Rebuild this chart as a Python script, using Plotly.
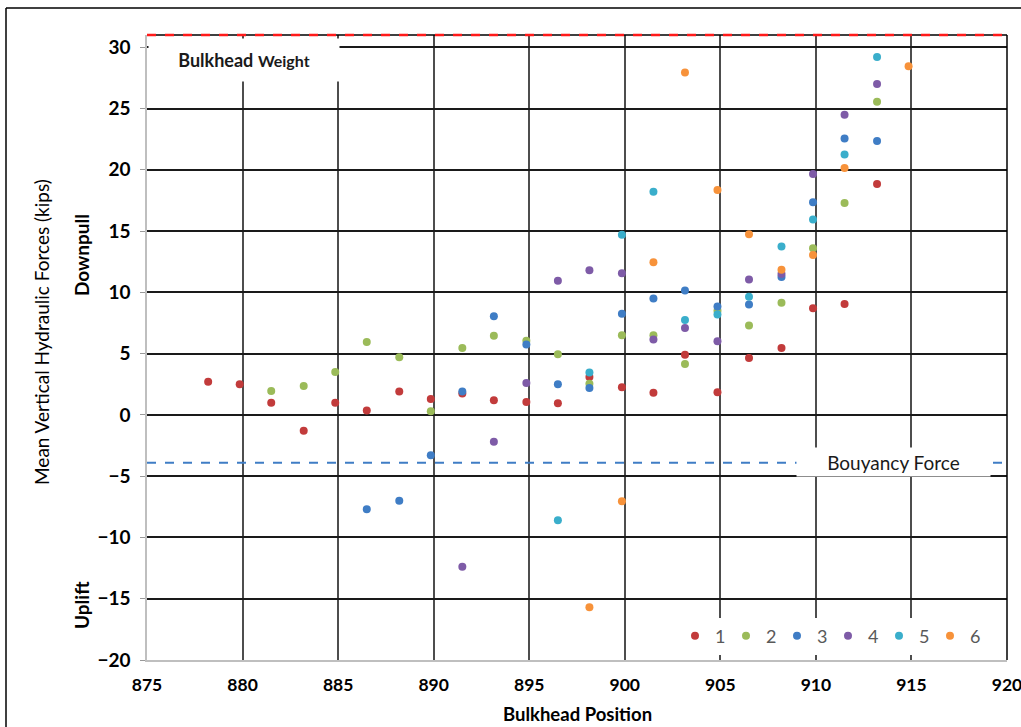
import plotly.graph_objects as go

# ---- data ----
x1 = [878.2, 879.85, 881.5, 883.2, 884.85, 886.5, 888.2, 889.85, 891.5, 893.15, 894.85,
      896.5, 898.15, 899.85, 901.5, 903.15, 904.85, 906.5, 908.2, 909.85, 911.5, 913.2]
y1 = [2.7, 2.5, 1.0, -1.3, 1.0, 0.35, 1.9, 1.3, 1.75, 1.2, 1.05,
      0.95, 3.1, 2.25, 1.8, 4.9, 1.85, 4.65, 5.45, 8.7, 9.05, 18.85]

x2 = [881.5, 883.2, 884.85, 886.5, 888.2, 889.85, 891.5, 893.15, 894.85, 896.5,
      898.15, 899.85, 901.5, 903.15, 904.85, 906.5, 908.2, 909.85, 911.5, 913.2]
y2 = [1.95, 2.35, 3.5, 5.95, 4.7, 0.3, 5.45, 6.45, 6.05, 4.95,
      2.55, 6.5, 6.5, 4.15, 8.5, 7.3, 9.15, 13.6, 17.3, 25.55]

x3 = [886.5, 888.2, 889.85, 891.5, 893.15, 894.85, 896.5, 898.15, 899.85,
      901.5, 903.15, 904.85, 906.5, 908.2, 909.85, 911.5, 913.2]
y3 = [-7.7, -7.0, -3.3, 1.9, 8.05, 5.75, 2.5, 2.2, 8.25,
      9.5, 10.15, 8.85, 9.0, 11.25, 17.35, 22.55, 22.35]

x4 = [891.5, 893.15, 894.85, 896.5, 898.15, 899.85, 901.5, 903.15, 904.85,
      906.5, 908.2, 909.85, 911.5, 913.2]
y4 = [-12.4, -2.2, 2.6, 10.95, 11.8, 11.55, 6.15, 7.1, 6.0,
      11.05, 11.5, 19.65, 24.5, 27.0]

x5 = [896.5, 898.15, 899.85, 901.5, 903.15, 904.85, 906.5, 908.2, 909.85, 911.5, 913.2]
y5 = [-8.6, 3.45, 14.7, 18.2, 7.75, 8.2, 9.65, 13.75, 15.95, 21.25, 29.2]

x6 = [898.15, 899.85, 901.5, 903.15, 904.85, 906.5, 908.2, 909.85, 911.5, 914.85]
y6 = [-15.7, -7.05, 12.45, 27.95, 18.35, 14.75, 11.85, 13.05, 20.15, 28.45]

series_names = ["1", "2", "3", "4", "5", "6"]
series_x = [x1, x2, x3, x4, x5, x6]
series_y = [y1, y2, y3, y4, y5, y6]
colors = ["#C23B3B", "#9BBB59", "#3F7DC5", "#7E5BA7", "#3AAECB", "#F7923A"]

bulkhead_weight = 31.0
bouyancy_force = -3.9

x_range = [875, 920]
y_range = [-20, 31]
x_ticks = [875, 880, 885, 890, 895, 900, 905, 910, 915, 920]
y_ticks = [-20, -15, -10, -5, 0, 5, 10, 15, 20, 25, 30]

FONT = "Lato"

# plot-area geometry in pixels (for placing paper-referenced decorations)
L, R, T, B = 147, 1007, 35, 660
PW, PH = R - L, B - T


def px(xp):
    return (xp - L) / PW


def py(yp):
    return (B - yp) / PH


fig = go.Figure()
for name, xs, ys, c in zip(series_names, series_x, series_y, colors):
    fig.add_trace(go.Scatter(x=xs, y=ys, mode="markers", name=name,
                             marker=dict(size=8, color=c)))

fig.update_layout(
    width=1021, height=727,
    margin=dict(l=L, r=1021 - R, t=T, b=727 - B),
    paper_bgcolor="white", plot_bgcolor="white",
    font=dict(family=FONT, color="black"),
    showlegend=True,
    legend=dict(orientation="h", x=px(981), y=py(636), xanchor="right", yanchor="middle",
                bgcolor="white", font=dict(size=18, color="#595959", family=FONT),
                itemwidth=30, entrywidth=6, tracegroupgap=0),
    xaxis=dict(range=x_range, tickvals=x_ticks, showgrid=True, gridcolor="#4d4d4d",
               gridwidth=1.5, zeroline=False, showline=True, linecolor="#BFBFBF",
               linewidth=1.5, ticks="", ticklen=0, automargin=False, ticklabelstandoff=8,
               ticklabeloverflow="allow",
               tickfont=dict(size=17.5, family=FONT, color="black", weight="bold")),
    yaxis=dict(range=y_range, tickvals=y_ticks, showgrid=True, gridcolor="#1a1a1a",
               gridwidth=1.8, zeroline=False, showline=True, linecolor="#BFBFBF",
               linewidth=1.5, ticks="outside", ticklen=5, tickcolor="#999999",
               automargin=False, ticklabelstandoff=6, ticklabeloverflow="allow",
               tickfont=dict(size=19, family=FONT, color="black", weight="bold")),
)

# top and right border of plot
fig.add_shape(type="line", xref="paper", yref="paper", x0=0, x1=1, y0=1, y1=1,
              line=dict(color="black", width=1.5))
fig.add_shape(type="line", xref="paper", yref="paper", x0=1, x1=1, y0=0, y1=1,
              line=dict(color="black", width=1.5))
# reference lines
bw_paper = (bulkhead_weight - y_range[0]) / (y_range[1] - y_range[0])
fig.add_shape(type="line", xref="paper", yref="paper", x0=0, x1=1, y0=bw_paper, y1=bw_paper,
              line=dict(color="#FF1A1A", width=2.5, dash="dash"))
fig.add_shape(type="line", xref="paper", yref="y", x0=0, x1=1, y0=bouyancy_force,
              y1=bouyancy_force, line=dict(color="#3F7DC5", width=2, dash="dash"))

# outer frame
fig.add_shape(type="line", xref="paper", yref="paper", x0=px(6), x1=px(1021), y0=py(8), y1=py(8),
              line=dict(color="black", width=1.5))
fig.add_shape(type="line", xref="paper", yref="paper", x0=px(6), x1=px(6), y0=py(730), y1=py(8),
              line=dict(color="black", width=1.5))

# labels with white boxes
fig.add_annotation(x=880.05, y=28.95, xref="x", yref="y", showarrow=False,
                   xanchor="center", yanchor="middle",
                   text="<b>Bulkhead</b> <b><span style='font-size:16px'>Weight</span></b>",
                   font=dict(size=18, family=FONT, color="#1a1a1a"),
                   bgcolor="white", width=190, height=42, borderpad=0)
fig.add_annotation(x=914.06, y=bouyancy_force + 0.08, xref="x", yref="y", showarrow=False,
                   xanchor="center", yanchor="middle",
                   text="Bouyancy Force", font=dict(size=19, family=FONT, color="#1a1a1a"),
                   bgcolor="white", width=193, height=28, borderpad=0)

# axis titles
fig.add_annotation(x=px(577), y=py(714), xref="paper", yref="paper", showarrow=False,
                   xanchor="center", yanchor="middle",
                   text="<b>Bulkhead Position</b>",
                   font=dict(size=18.5, family=FONT, color="black"))
fig.add_annotation(x=px(41), y=py(332), xref="paper", yref="paper", showarrow=False,
                   xanchor="center", yanchor="middle",
                   text="Mean Vertical Hydraulic Forces (kips)", textangle=-90,
                   font=dict(size=19, family=FONT, color="black"))
fig.add_annotation(x=px(81), y=py(255), xref="paper", yref="paper", showarrow=False,
                   xanchor="center", yanchor="middle",
                   text="<b>Downpull</b>", textangle=-90,
                   font=dict(size=19, family=FONT, color="black"))
fig.add_annotation(x=px(81), y=py(605), xref="paper", yref="paper", showarrow=False,
                   xanchor="center", yanchor="middle",
                   text="<b>Uplift</b>", textangle=-90,
                   font=dict(size=19, family=FONT, color="black"))

fig.write_html("out.html")
